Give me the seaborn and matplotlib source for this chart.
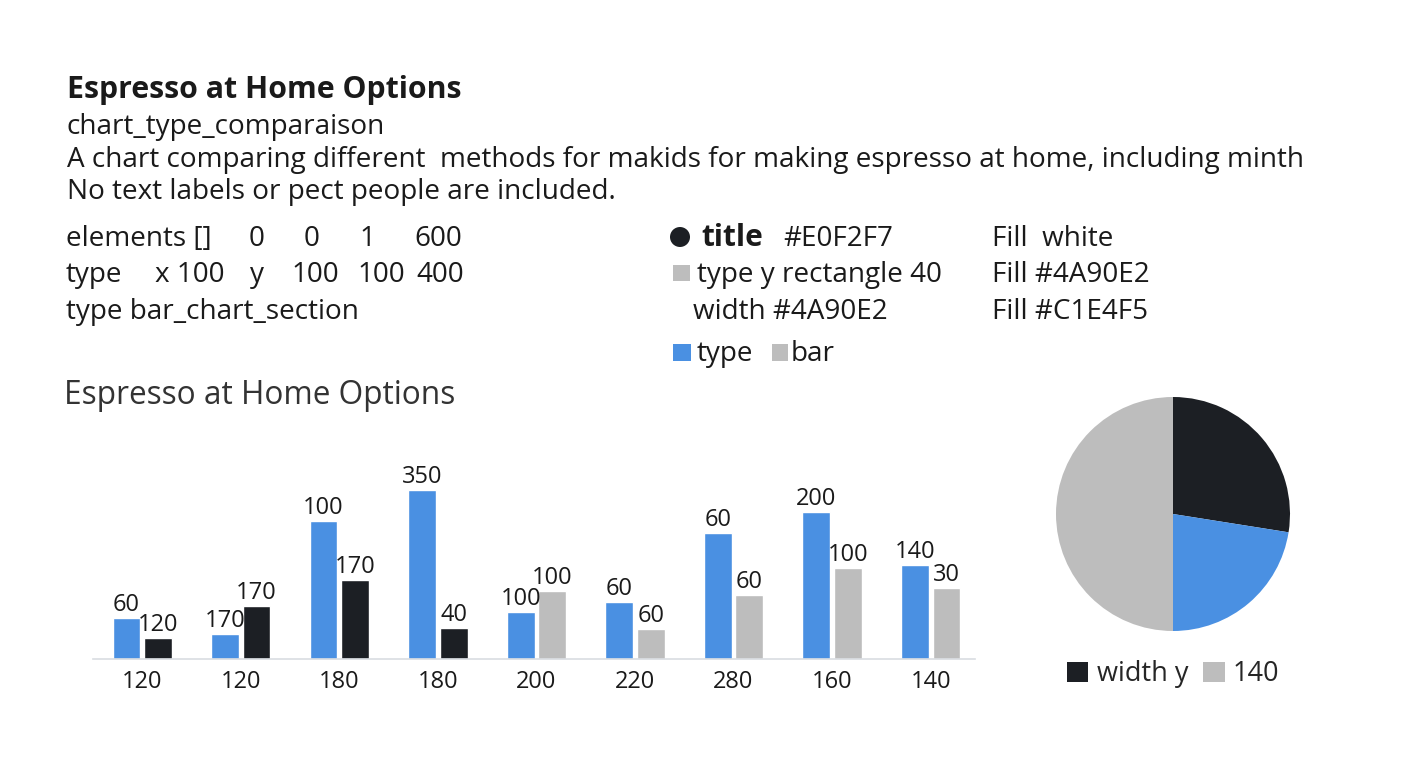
import numpy as np
import pandas as pd
import seaborn as sns
import matplotlib.pyplot as plt
from matplotlib.patches import Rectangle, Ellipse

# ---- data ----
groups = ['120', '120', '180', '180', '200', '220', '280', '160', '140']
series_a = [41, 25, 138, 169, 47, 57, 126, 147, 94]   # blue bars
series_b = [21, 53, 79, 31, 68, 30, 64, 91, 71]       # second bars
labels_a = ['60', '170', '100', '350', '100', '60', '60', '200', '140']
labels_b = ['120', '170', '170', '40', '100', '60', '60', '100', '30']
pie_values = [27.5, 22.5, 50.0]
pie_names = ['width y', '', '140']

BLUE = '#4A90E2'
DARK = '#1C1F24'
GREY = '#BDBDBD'
TXT = '#1A1A1A'
b_colors = [DARK, DARK, DARK, DARK, GREY, GREY, GREY, GREY, GREY]

sns.set_theme(style='white')
plt.rcParams['font.family'] = ['Open Sans', 'DejaVu Sans']

W, H = 1408, 768
BODY = 20.1
fig = plt.figure(figsize=(W / 100, H / 100), dpi=100)
fig.patch.set_facecolor('white')


def fx(px):
    return px / W


def fy(py):
    return 1 - py / H


def ftext(x, y, s, size=BODY, **kw):
    kw.setdefault('color', TXT)
    fig.text(fx(x), fy(y), s, fontsize=size, va='center', ha='left', **kw)


def square(x, y, w, h, c):
    # x, y = top-left pixel
    fig.patches.append(Rectangle((fx(x), fy(y + h)), w / W, h / H, transform=fig.transFigure,
                                 facecolor=c, edgecolor='none'))


# ---- header texts ----
ftext(67, 90, 'Espresso at Home Options', size=21.8, weight='bold')
ftext(67, 127, 'chart_type_comparaison')
ftext(67, 160, 'A chart comparing different  methods for makids for making espresso at home, including minth')
ftext(67, 192, 'No text labels or pect people are included.')

for x, s in [(66, 'elements []'), (249, '0'), (304, '0'), (359, '1'), (414, '600')]:
    ftext(x, 239, s)
for x, s in [(66, 'type'), (155, 'x 100'), (250, 'y'), (291, '100'), (357, '100'), (416, '400')]:
    ftext(x, 275, s)
ftext(66, 312, 'type bar_chart_section')

# right column
fig.patches.append(Ellipse((fx(680), fy(237)), 20 / W, 20 / H, transform=fig.transFigure,
                           facecolor=DARK, edgecolor='none'))
ftext(701, 238, 'title', size=21.5, weight='bold')
ftext(783, 239, '#E0F2F7')
ftext(992, 239, 'Fill  white')
square(673, 265, 17, 16, GREY)
ftext(697, 275, 'type y rectangle 40')
ftext(992, 275, 'Fill #4A90E2')
ftext(693, 312, 'width #4A90E2')
ftext(992, 312, 'Fill #C1E4F5')
square(673, 344, 18, 17, BLUE)
ftext(697, 354, 'type')
square(772, 344, 16, 17, GREY)
ftext(791, 354, 'bar')

ftext(64, 396, 'Espresso at Home Options', size=22.8, color='#333333')

# ---- grouped bar chart ----
df = pd.DataFrame({
    'pos': list(range(len(groups))) * 2,
    'value': series_a + series_b,
    'series': ['a'] * len(groups) + ['b'] * len(groups),
})
ax = fig.add_axes([fx(93), fy(659), fx(975 - 93), 200 / H])
sns.barplot(data=df, x='pos', y='value', hue='series', palette=[BLUE, DARK],
            width=0.64, gap=0.12, dodge=True, legend=False, ax=ax, saturation=1)
for patch, c in zip(ax.containers[1], b_colors):
    patch.set_facecolor(c)
ax.bar_label(ax.containers[0], labels=labels_a, padding=1, fontsize=17, color=TXT)
ax.bar_label(ax.containers[1], labels=labels_b, padding=1, fontsize=17, color=TXT)
ax.set_xlim(-0.5, 8.45)
ax.set_ylim(0, 200)
ax.set_xticks(range(len(groups)))
ax.set_xticklabels(groups, fontsize=17, color=TXT)
ax.tick_params(axis='x', length=0, pad=8)
ax.set_yticks([])
ax.set_xlabel('')
ax.set_ylabel('')
for side in ['top', 'left', 'right']:
    ax.spines[side].set_visible(False)
ax.spines['bottom'].set_color('#D9DDE2')
ax.spines['bottom'].set_linewidth(1.2)
ax.patch.set_alpha(0)

# ---- pie ----
pax = fig.add_axes([fx(1173 - 117), fy(514 + 117), fx(234), 234 / H])
wedges, _ = pax.pie(pie_values, colors=[DARK, BLUE, GREY], startangle=90,
                    counterclock=False, wedgeprops={'linewidth': 0})
pax.set_xlim(-1, 1)
pax.set_ylim(-1, 1)
pax.set_aspect('equal')
pax.legend([wedges[0], wedges[2]], [pie_names[0], pie_names[2]], ncol=2, frameon=False,
           loc='upper center', bbox_to_anchor=(0.5, -0.045), fontsize=19.5,
           handlelength=0.8, handleheight=0.8, handletextpad=0.3, columnspacing=0.55,
           borderpad=0.2)

fig.savefig('out.png', dpi=100, facecolor='white')
